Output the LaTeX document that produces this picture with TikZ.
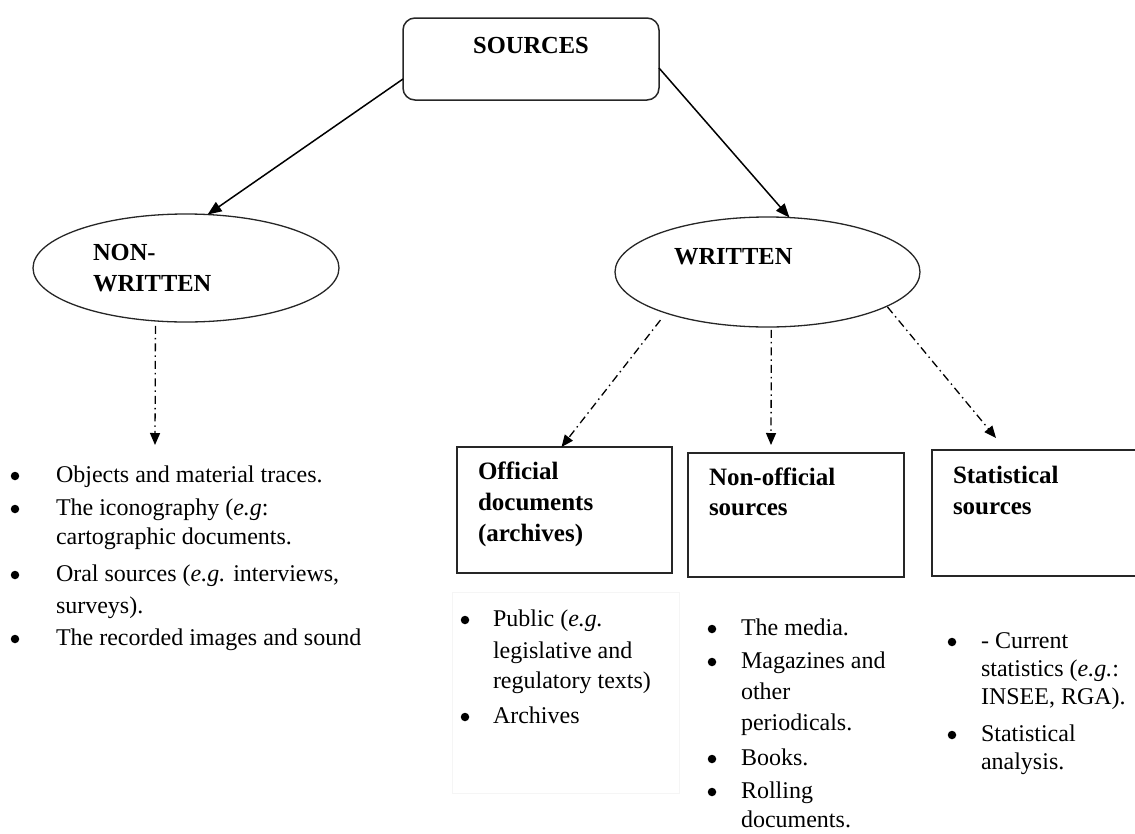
\documentclass[tikz,border=0pt]{standalone}
\usepackage{fontspec}
\setmainfont{Liberation Serif}
\usetikzlibrary{arrows.meta,shapes.geometric,calc}

\begin{document}
\begin{tikzpicture}[x=1pt,y=-1pt,
  every node/.style={inner sep=0pt, outer sep=0pt},
  toplabel/.style={font=\fontsize{24.5}{30}\selectfont\bfseries},
  boxtitle/.style={font=\fontsize{25}{31}\selectfont\bfseries, anchor=base west},
  item/.style={font=\fontsize{24}{30}\selectfont, anchor=base west},
  bul/.style={circle, fill=black, minimum size=8.5pt},
  frame/.style={draw=black!85, line width=1.5pt},
  oval/.style={ellipse, draw=black!85, line width=1.3pt},
  link/.style={draw=black, line width=1.5pt, -{Triangle[length=14pt,width=11pt]}},
  dlink/.style={draw=black, line width=1.3pt,
    dash pattern=on 8pt off 4pt on 1.5pt off 4pt,
    -{Triangle[length=12pt,width=10pt]}},
  faint/.style={draw=black!4, line width=1pt}
]
\useasboundingbox (0,0) rectangle (1135,833);

% --- top of the tree -------------------------------------------------
\node[frame, rounded corners=12pt, minimum width=256pt, minimum height=82pt]
  (src) at (531,59) {};
\node[toplabel, anchor=base] (srclabel) at (531,53) {SOURCES};

\node[oval, minimum width=306pt, minimum height=108pt] (nw) at (186,268) {};
\node[toplabel, anchor=base west] (nwlabelA) at (93,260) {NON-};
\node[toplabel, anchor=base west] (nwlabelB) at (93,291) {WRITTEN};

\node[oval, minimum width=305pt, minimum height=110pt] (wr) at (767.5,272) {};
\node[toplabel, anchor=base west] (wrlabel) at (674,264) {WRITTEN};

\draw[link] ($(src.west)+(0,20)$) -- (nw.68);
\draw[link] ($(src.east)+(0,9)$) -- (wr.68);

% --- second level boxes --------------------------------------------
\node[frame, minimum width=215pt, minimum height=126pt] (off) at (564.5,510) {};
\node[frame, minimum width=216pt, minimum height=124pt] (nof) at (796,515) {};
\node[frame, minimum width=208pt, minimum height=126pt] (stat) at (1036,513) {};

\node[boxtitle] (offA) at (478,479) {Official};
\node[boxtitle] (offB) at (478,510) {documents};
\node[boxtitle] (offC) at (478,541) {(archives)};
\node[boxtitle] (nofA) at (709,485) {Non-official};
\node[boxtitle] (nofB) at (709,515) {sources};
\node[boxtitle] (statA) at (953,483) {Statistical};
\node[boxtitle] (statB) at (953,514) {sources};

% dash-dotted links
\coordinate (tipNW) at (155,445);
\coordinate (tipNOF) at (771,445);
\coordinate (tipSTAT) at (996,438);
\draw[dlink, shorten <=5pt] (nw.240) -- (tipNW);
\draw[dlink, shorten <=9pt] (wr.202) -- ($(off.north)+(-3,0)$);
\draw[dlink, shorten <=3pt] (wr.274) -- (tipNOF);
\draw[dlink, shorten <=1pt] (wr.344) -- (tipSTAT);

% --- bullet lists (bullets sit at x-height centre, 6pt above baseline) ---
% non-written
\node[bul] (ba1) at (15,476) {};
\node[item] (la1) at (56,482) {Objects and material traces.};
\node[bul] (ba2) at (15,509) {};
\node[item] (la2) at (56,515) {The iconography (\textit{e.g}:};
\node[item] (la3) at (56,544) {cartographic documents.};
\node[bul] (ba3) at (15,575) {};
\node[item] (la4) at (56,581) {Oral sources (\textit{e.g.} interviews,};
\node[item] (la5) at (56,613) {surveys).};
\node[bul] (ba4) at (15,639) {};
\node[item] (la6) at (56,645) {The recorded images and sound};

% official documents
\draw[faint] (452,592) rectangle (679,793);
\node[bul] (bb1) at (465,620) {};
\node[item] (lb1) at (493,626) {Public (\textit{e.g.}};
\node[item] (lb2) at (493,658) {legislative and};
\node[item] (lb3) at (493,688) {regulatory texts)};
\node[bul] (bb2) at (465,717) {};
\node[item] (lb4) at (493,723) {Archives};

% non-official sources
\node[bul] (bc1) at (712,629) {};
\node[item] (lc1) at (741,635) {The media.};
\node[bul] (bc2) at (712,662) {};
\node[item] (lc2) at (741,668) {Magazines and};
\node[item] (lc3) at (741,699) {other};
\node[item] (lc4) at (741,730) {periodicals.};
\node[bul] (bc3) at (712,759) {};
\node[item] (lc5) at (741,765) {Books.};
\node[bul] (bc4) at (712,792) {};
\node[item] (lc6) at (741,798) {Rolling};
\node[item] (lc7) at (741,827) {documents.};

% statistical sources
\node[bul] (bd1) at (952,642) {};
\node[item] (ld1) at (981,648) {- Current};
\node[item] (ld2) at (981,676) {statistics (\textit{e.g.}:};
\node[item] (ld3) at (981,704) {INSEE, RGA).};
\node[bul] (bd2) at (952,735) {};
\node[item] (ld4) at (981,741) {Statistical};
\node[item] (ld5) at (981,769) {analysis.};
\end{tikzpicture}
\end{document}
